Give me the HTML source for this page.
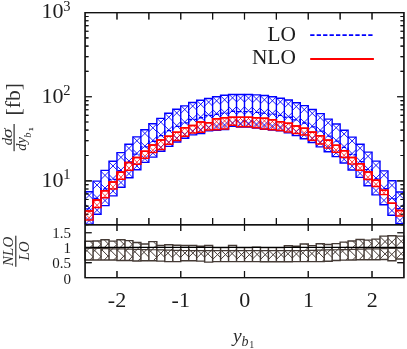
<!DOCTYPE html>
<html><head><meta charset="utf-8"><title>chart</title>
<style>html,body{margin:0;padding:0;background:#fff}body{width:407px;height:349px;overflow:hidden;font-family:"Liberation Serif",serif}</style>
</head><body>
<svg width="407" height="349" viewBox="0 0 407 349" style="display:block;will-change:transform;opacity:0.999">
<rect width="407" height="349" fill="#ffffff"/>
<g clip-path="url(#cm)">
<path d="M85.48 191.8L93.07 199.39M92.68 191.8L85.1 199.39M85.1 204.01L93.07 211.99M93.07 204.01L85.1 211.99M85.1 216.61L92.69 224.2M93.07 216.61L85.48 224.2M93.11 181.1L101.04 189.04M101 181.1L93.07 189.04M93.07 193.67L101.04 201.64M101.04 193.67L93.07 201.64M93.07 206.26L101 214.2M101.04 206.27L93.11 214.2M101.04 171.42L109.01 179.39M109.01 171.42L101.04 179.38M101.04 184.01L109.01 191.99M109.01 184.01L101.04 191.98M101.04 196.61L109.01 204.58M109.01 196.61L101.04 204.58M109.01 161.97L116.98 169.94M116.98 161.97L109.01 169.94M109.01 174.56L116.98 182.54M116.98 174.57L109.01 182.54M109.01 187.17L116.98 195.14M116.98 187.17L109.01 195.14M116.98 153.37L124.95 161.33M124.95 153.36L116.98 161.33M116.98 165.96L124.95 173.94M124.95 165.96L116.98 173.93M116.98 178.56L124.95 186.53M124.95 178.56L116.98 186.53M124.95 144.41L132.92 152.38M132.92 144.42L124.95 152.38M124.95 157.01L132.92 164.98M132.92 157.02L124.95 164.99M124.95 169.61L132.92 177.58M132.92 169.62L124.95 177.58M133.05 136.9L140.89 144.74M140.75 136.9L132.92 144.73M132.92 149.37L140.89 157.34M140.89 149.36L132.92 157.33M132.92 161.97L140.75 169.8M140.89 161.96L133.05 169.8M141.12 129.7L148.86 137.44M148.62 129.7L140.89 137.44M140.89 142.06L148.86 150.03M148.86 142.07L140.89 150.04M140.89 154.66L148.62 162.4M148.86 154.67L141.12 162.4M148.86 123.87L156.83 131.84M156.83 123.86L148.86 131.83M148.86 136.47L156.83 144.44M156.83 136.46L148.86 144.43M148.86 149.06L156.83 157.03M156.83 149.06L148.86 157.03M157.01 118.4L164.8 126.18M164.62 118.4L156.83 126.19M156.83 130.81L164.8 138.78M164.8 130.81L156.83 138.78M156.83 143.41L164.62 151.2M164.8 143.41L157.01 151.2M164.83 113.3L172.77 121.24M172.73 113.3L164.8 121.23M164.8 125.87L172.77 133.84M172.77 125.86L164.8 133.83M164.8 138.47L172.73 146.4M172.77 138.46L164.83 146.4M172.95 109.2L180.74 116.98M180.55 109.2L172.77 116.98M172.77 121.61L180.74 129.58M180.74 121.61L172.77 129.58M172.77 134.21L180.56 142M180.74 134.21L172.95 142M181.17 105.9L188.71 113.44M188.27 105.9L180.74 113.44M180.74 118.06L188.71 126.03M188.71 118.06L180.74 126.03M180.74 130.66L188.27 138.2M188.71 130.66L181.17 138.2M189.09 102.5L196.68 110.08M196.3 102.5L188.71 110.09M188.71 114.71L196.68 122.68M196.68 114.72L188.71 122.69M188.71 127.31L196.29 134.9M196.68 127.32L189.09 134.9M196.68 100.37L204.65 108.34M204.65 100.36L196.68 108.33M196.68 112.97L204.65 120.94M204.65 112.96L196.68 120.93M196.68 125.57L204.65 133.53M204.65 125.56L196.68 133.53M205.03 98.5L212.62 106.08M212.24 98.5L204.65 106.09M204.65 110.71L212.62 118.68M212.62 110.72L204.65 118.69M204.65 123.31L212.23 130.9M212.62 123.32L205.03 130.9M212.62 96.86L220.59 104.83M220.59 96.86L212.62 104.83M212.62 109.46L220.59 117.43M220.59 109.46L212.62 117.43M212.62 122.06L220.59 130.03M220.59 122.06L212.62 130.03M220.59 95.76L228.56 103.73M228.56 95.77L220.59 103.74M220.59 108.36L228.56 116.33M228.56 108.37L220.59 116.34M220.59 120.96L228.56 128.93M228.56 120.97L220.59 128.94M229.19 94.5L236.53 101.83M235.89 94.5L228.56 101.83M228.56 106.46L236.53 114.43M236.53 106.46L228.56 114.43M228.56 119.06L235.89 126.4M236.53 119.06L229.19 126.4M236.86 94.5L244.5 102.13M244.16 94.5L236.53 102.14M236.53 106.76L244.5 114.73M244.5 106.77L236.53 114.74M236.53 119.36L244.16 127M244.5 119.37L236.86 127M244.83 94.5L252.47 102.14M252.13 94.5L244.5 102.13M244.5 106.77L252.47 114.74M252.47 106.76L244.5 114.73M244.5 119.37L252.13 127M252.47 119.36L244.83 127M252.47 94.92L260.44 102.89M260.44 94.91L252.47 102.88M252.47 107.52L260.44 115.49M260.44 107.51L252.47 115.48M252.47 120.12L260.44 128.09M260.44 120.11L252.47 128.08M260.44 95.81L268.41 103.79M268.41 95.81L260.44 103.79M260.44 108.41L268.41 116.39M268.41 108.41L260.44 116.39M260.44 121.01L268.41 128.99M268.41 121.01L260.44 128.99M268.41 96.76L276.38 104.73M276.38 96.77L268.41 104.74M268.41 109.36L276.38 117.33M276.38 109.36L268.41 117.34M268.41 121.96L276.38 129.94M276.38 121.96L268.41 129.94M276.66 98.2L284.35 105.89M284.06 98.2L276.38 105.89M276.38 110.52L284.35 118.49M284.35 110.51L276.38 118.48M276.38 123.11L284.06 130.8M284.35 123.11L276.67 130.8M284.48 100L292.32 107.84M292.18 100L284.35 107.83M284.35 112.47L292.32 120.44M292.32 112.46L284.35 120.43M284.35 125.07L292.18 132.9M292.32 125.06L284.48 132.9M292.45 102.7L300.29 110.54M300.15 102.7L292.32 110.54M292.32 115.17L300.29 123.14M300.29 115.16L292.32 123.14M292.32 127.77L300.15 135.6M300.29 127.76L292.45 135.6M300.29 105.61L308.26 113.59M308.26 105.61L300.29 113.59M300.29 118.21L308.26 126.19M308.26 118.21L300.29 126.19M300.29 130.81L308.26 138.78M308.26 130.81L300.29 138.78M308.35 109.5L316.23 117.39M316.14 109.5L308.26 117.39M308.26 122.01L316.23 129.99M316.23 122.01L308.26 129.99M308.26 134.61L316.14 142.5M316.23 134.61L308.35 142.5M316.23 113.67L324.2 121.64M324.2 113.66L316.23 121.63M316.23 126.27L324.2 134.24M324.2 126.26L316.23 134.23M316.23 138.87L324.2 146.84M324.2 138.86L316.23 146.83M324.48 119.1L332.17 126.78M331.88 119.1L324.2 126.78M324.2 131.41L332.17 139.38M332.17 131.41L324.2 139.38M324.2 144.01L331.88 151.7M332.17 144.01L324.48 151.7M332.45 124L340.14 131.69M339.86 124L332.17 131.69M332.17 136.31L340.14 144.29M340.14 136.31L332.17 144.29M332.17 148.91L339.85 156.6M340.14 148.91L332.45 156.6M340.38 130.3L348.11 138.04M347.88 130.3L340.14 138.04M340.14 142.66L348.11 150.64M348.11 142.66L340.14 150.64M340.14 155.26L347.88 163M348.11 155.26L340.38 163M348.25 137.1L356.08 144.94M355.95 137.1L348.11 144.94M348.11 149.56L356.08 157.54M356.08 149.56L348.11 157.54M348.11 162.16L355.95 170M356.08 162.16L348.25 170M356.11 144.3L364.05 152.24M364.01 144.3L356.08 152.24M356.08 156.87L364.05 164.84M364.05 156.87L356.08 164.84M356.08 169.47L364.01 177.4M364.05 169.47L356.11 177.4M364.05 152.31L372.02 160.29M372.02 152.31L364.05 160.29M364.05 164.91L372.02 172.89M372.02 164.91L364.05 172.89M364.05 177.51L372.02 185.49M372.02 177.51L364.05 185.49M372.02 161.41L379.99 169.39M379.99 161.41L372.02 169.39M372.02 174.01L379.99 181.99M379.99 174.01L372.02 181.99M372.02 186.61L379.99 194.58M379.99 186.61L372.02 194.58M379.99 171.21L387.96 179.19M387.96 171.21L379.99 179.19M379.99 183.81L387.96 191.79M387.96 183.81L379.99 191.79M379.99 196.42L387.96 204.39M387.96 196.42L379.99 204.39M387.96 181.41L395.93 189.38M395.93 181.41L387.96 189.38M387.96 194.01L395.93 201.99M395.93 194.01L387.96 201.99M387.96 206.62L395.93 214.59M395.93 206.62L387.96 214.59M396.71 192L403.9 199.19M403.11 192L395.93 199.19M395.93 203.81L403.9 211.79M403.9 203.81L395.93 211.79M395.93 216.42L403.11 223.6M403.9 216.42L396.71 223.6" fill="none" stroke="#0000ff" stroke-width="0.9"/>
<path d="M85.1 191.8H93.07V224.2H85.1ZM93.07 181.1H101.04V214.2H93.07ZM101.04 170.4H109.01V205.6H101.04ZM109.01 161.2H116.98V195.9H109.01ZM116.98 152.6H124.95V187.3H116.98ZM124.95 144.2H132.92V177.8H124.95ZM132.92 136.9H140.89V169.8H132.92ZM140.89 129.7H148.86V162.4H140.89ZM148.86 123.8H156.83V157.1H148.86ZM156.83 118.4H164.8V151.2H156.83ZM164.8 113.3H172.77V146.4H164.8ZM172.77 109.2H180.74V142H172.77ZM180.74 105.9H188.71V138.2H180.74ZM188.71 102.5H196.68V134.9H188.71ZM196.68 100.3H204.65V133.6H196.68ZM204.65 98.5H212.62V130.9H204.65ZM212.62 96.7H220.59V130.2H212.62ZM220.59 95.2H228.56V129.5H220.59ZM228.56 94.5H236.53V126.4H228.56ZM236.53 94.5H244.5V127H236.53ZM244.5 94.5H252.47V127H244.5ZM252.47 94.9H260.44V128.1H252.47ZM260.44 95.5H268.41V129.3H260.44ZM268.41 96.7H276.38V130H268.41ZM276.38 98.2H284.35V130.8H276.38ZM284.35 100H292.32V132.9H284.35ZM292.32 102.7H300.29V135.6H292.32ZM300.29 105.6H308.26V138.8H300.29ZM308.26 109.5H316.23V142.5H308.26ZM316.23 113.6H324.2V146.9H316.23ZM324.2 119.1H332.17V151.7H324.2ZM332.17 124H340.14V156.6H332.17ZM340.14 130.3H348.11V163H340.14ZM348.11 137.1H356.08V170H348.11ZM356.08 144.3H364.05V177.4H356.08ZM364.05 152.1H372.02V185.7H364.05ZM372.02 161.1H379.99V194.9H372.02ZM379.99 170.9H387.96V204.7H379.99ZM387.96 180.8H395.93V215.2H387.96ZM395.93 192H403.9V223.6H395.93Z" fill="none" stroke="#0000ff" stroke-width="1.4" stroke-linejoin="miter"/>
<path d="M85.1 208.8H93.07V198.45H101.04V188.8H109.01V179.35H116.98V170.75H124.95V161.8H132.92V154.15H140.89V146.85H148.86V141.25H156.83V135.6H164.8V130.65H172.77V126.4H180.74V122.85H188.71V119.5H196.68V117.75H204.65V115.5H212.62V114.25H220.59V113.15H228.56V111.25H236.53V111.55H244.5V111.55H252.47V112.3H260.44V113.2H268.41V114.15H276.38V115.3H284.35V117.25H292.32V119.95H300.29V123H308.26V126.8H316.23V131.05H324.2V136.2H332.17V141.1H340.14V147.45H348.11V154.35H356.08V161.65H364.05V169.7H372.02V178.8H379.99V188.6H387.96V198.8H395.93V208.6H403.9" fill="none" stroke="#0000ff" stroke-width="1.3" stroke-dasharray="4.3 2.1"/>
</g>
<path d="M85.1 252.45L93.07 244.48M85.1 248.75L93.07 256.72M89.85 260L93.07 256.78M89.85 241.2L93.07 244.42M93.07 252.22L101.04 244.25M93.07 248.78L101.04 256.75M97.59 260L101.04 256.55M97.59 241L101.04 244.45M101.04 250.83L109.01 242.86M101.04 248.97L109.01 256.94M104.17 260L109.01 255.16M104.17 239.8L109.01 244.64M109.01 252.33L116.98 244.36M109.01 248.77L116.98 256.74M113.64 260L116.98 256.66M113.64 241.1L116.98 244.44M116.98 250.63L124.95 242.66M116.98 249.57L124.95 257.54M119.41 260.5L124.95 254.96M119.41 239.7L124.95 245.24M124.95 251.68L132.92 243.71M124.95 249.42L132.92 257.39M128.43 260.5L132.92 256.01M128.43 240.6L132.92 245.09M132.92 253.68L140.89 245.71M132.92 249.72L140.89 257.69M137.9 261L140.89 258.01M137.9 242.4L140.89 245.39M140.89 255.44L148.86 247.47M140.89 249.16L148.86 257.13M147.93 260.7L148.86 259.77M147.93 243.9L148.86 244.83M148.86 252.8L156.83 244.83M148.86 249.5L156.83 257.47M153.26 260.7L156.83 257.13M153.26 241.6L156.83 245.17M156.83 257.2L164.8 249.23M156.83 249.4L164.8 257.37M164.8 256.34L172.77 248.37M164.8 250.06L172.77 258.03M171.84 261.6L172.77 260.67M171.84 244.8L172.77 245.73M172.77 256.79L180.74 248.82M172.77 250.01L180.74 257.98M180.26 261.6L180.74 261.12M180.26 245.2L180.74 245.68M180.74 257.25L188.71 249.28M180.74 248.95L188.71 256.92M188.71 257.25L196.68 249.28M188.71 248.95L196.68 256.92M196.68 258.1L204.65 250.13M196.68 249.3L204.65 257.27M204.65 257.06L212.62 249.09M204.65 250.54L212.62 258.51M211.91 262.1L212.62 261.39M211.91 245.5L212.62 246.21M212.62 259.49L220.59 251.52M212.62 249.71L220.59 257.68M220.59 259.49L228.56 251.52M220.59 249.71L228.56 257.68M228.56 257.13L236.53 249.16M228.56 249.97L236.53 257.94M236.39 261.6L236.53 261.46M236.39 245.5L236.53 245.64M236.53 259.49L244.5 251.52M236.53 249.71L244.5 257.68M244.5 259.49L252.47 251.52M244.5 249.71L252.47 257.68M252.47 259.05L260.44 251.08M252.47 249.75L260.44 257.72M260.44 259.47L268.41 251.5M260.44 249.93L268.41 257.9M268.41 259.47L276.38 251.5M268.41 249.93L276.38 257.9M276.38 259.47L284.35 251.5M276.38 249.93L284.35 257.9M284.35 257.45L292.32 249.48M284.35 250.15L292.32 258.12M292.3 261.8L292.32 261.78M292.3 245.8L292.32 245.82M292.32 258.04L300.29 250.07M292.32 249.86L300.29 257.83M300.29 255.31L308.26 247.34M300.29 250.19L308.26 258.16M306.3 261.6L308.26 259.64M306.3 243.9L308.26 245.86M308.26 257.25L316.23 249.28M308.26 249.95L316.23 257.92M316.21 261.6L316.23 261.58M316.21 245.6L316.23 245.62M316.23 255.19L324.2 247.22M316.23 250.21L324.2 258.18M322.12 261.6L324.2 259.52M322.12 243.8L324.2 245.88M324.2 255.94L332.17 247.97M324.2 249.66L332.17 257.63M331.24 261.2L332.17 260.27M331.24 244.4L332.17 245.33M332.17 255.14L340.14 247.17M332.17 248.86L340.14 256.83M339.21 260.4L340.14 259.47M339.21 243.6L340.14 244.53M340.14 253.47L348.11 245.5M340.14 248.73L348.11 256.7M345.81 260.1L348.11 257.8M345.81 242.1L348.11 244.4M348.11 252.1L356.08 244.13M348.11 248.8L356.08 256.77M352.51 260L356.08 256.43M352.51 240.9L356.08 244.47M356.08 250.41L364.05 242.44M356.08 248.69L364.05 256.66M359.09 259.7L364.05 254.74M359.09 239.4L364.05 244.36M364.05 251.22L372.02 243.25M364.05 248.58L372.02 256.55M367.87 259.7L372.02 255.55M367.87 240.1L372.02 244.25M372.02 250.07L379.99 242.1M372.02 248.73L379.99 256.7M374.69 259.7L379.99 254.4M374.69 239.1L379.99 244.4M379.99 246.62L387.96 238.65M379.99 248.88L387.96 256.85M379.99 258.92L387.96 250.95M379.99 236.58L387.96 244.55M387.96 245.91L395.93 237.94M387.96 250.59L395.93 258.56M387.96 258.21L395.93 250.24M387.96 238.29L395.93 246.26M395.93 246.69L403.9 238.72M395.93 248.41L403.9 256.38M395.93 258.99L403.9 251.02M395.93 236.11L403.9 244.08" fill="none" stroke="#443a35" stroke-width="1.0"/>
<path d="M85.1 241.2H93.07V260H85.1ZM93.07 241H101.04V260H93.07ZM101.04 239.8H109.01V260H101.04ZM109.01 241.1H116.98V260H109.01ZM116.98 239.7H124.95V260.5H116.98ZM124.95 240.6H132.92V260.5H124.95ZM132.92 242.4H140.89V261H132.92ZM140.89 243.9H148.86V260.7H140.89ZM148.86 241.6H156.83V260.7H148.86ZM156.83 245.5H164.8V261.1H156.83ZM164.8 244.8H172.77V261.6H164.8ZM172.77 245.2H180.74V261.6H172.77ZM180.74 245.5H188.71V260.7H180.74ZM188.71 245.5H196.68V260.7H188.71ZM196.68 246.3H204.65V261.1H196.68ZM204.65 245.5H212.62V262.1H204.65ZM212.62 247.6H220.59V261.6H212.62ZM220.59 247.6H228.56V261.6H220.59ZM228.56 245.5H236.53V261.6H228.56ZM236.53 247.6H244.5V261.6H236.53ZM244.5 247.6H252.47V261.6H244.5ZM252.47 247.2H260.44V261.6H252.47ZM260.44 247.6H268.41V261.8H260.44ZM268.41 247.6H276.38V261.8H268.41ZM276.38 247.6H284.35V261.8H276.38ZM284.35 245.8H292.32V261.8H284.35ZM292.32 246.3H300.29V261.6H292.32ZM300.29 243.9H308.26V261.6H300.29ZM308.26 245.6H316.23V261.6H308.26ZM316.23 243.8H324.2V261.6H316.23ZM324.2 244.4H332.17V261.2H324.2ZM332.17 243.6H340.14V260.4H332.17ZM340.14 242.1H348.11V260.1H340.14ZM348.11 240.9H356.08V260H348.11ZM356.08 239.4H364.05V259.7H356.08ZM364.05 240.1H372.02V259.7H364.05ZM372.02 239.1H379.99V259.7H372.02ZM379.99 236.1H387.96V259.4H379.99ZM387.96 235.7H395.93V260.8H387.96ZM395.93 236.1H403.9V259H395.93Z" fill="none" stroke="#443a35" stroke-width="1.45" stroke-linejoin="miter"/>
<path d="M85.1 248.2H93.07V248.39H101.04V248.58H109.01V248.78H116.98V248.97H124.95V249.16H132.92V249.35H140.89V249.54H148.86V249.74H156.83V249.93H164.8V250.12H172.77V250.31H180.74V250.5H188.71V250.6H196.68V250.6H204.65V250.6H212.62V250.6H220.59V250.6H228.56V250.6H236.53V250.6H244.5V250.6H252.47V250.6H260.44V250.6H268.41V250.6H276.38V250.6H284.35V250.6H292.32V250.6H300.29V250.5H308.26V250.31H316.23V250.12H324.2V249.93H332.17V249.74H340.14V249.54H348.11V249.35H356.08V249.16H364.05V248.97H372.02V248.78H379.99V248.58H387.96V248.39H395.93V248.2H403.9" fill="none" stroke="#443a35" stroke-width="1.2"/>
<path d="M85.1 247.4H403.9" stroke="#000" stroke-width="1.3"/>
<path d="M85.1 224.77h3.4M403.9 224.77h-3.4M85.1 214.27h3.4M403.9 214.27h-3.4M85.1 206.12h3.4M403.9 206.12h-3.4M85.1 199.46h3.4M403.9 199.46h-3.4M85.1 193.83h3.4M403.9 193.83h-3.4M85.1 188.95h3.4M403.9 188.95h-3.4M85.1 184.65h3.4M403.9 184.65h-3.4M85.1 180.8h6.8M403.9 180.8h-6.8M85.1 155.48h3.4M403.9 155.48h-3.4M85.1 140.67h3.4M403.9 140.67h-3.4M85.1 130.17h3.4M403.9 130.17h-3.4M85.1 122.02h3.4M403.9 122.02h-3.4M85.1 115.36h3.4M403.9 115.36h-3.4M85.1 109.73h3.4M403.9 109.73h-3.4M85.1 104.85h3.4M403.9 104.85h-3.4M85.1 100.55h3.4M403.9 100.55h-3.4M85.1 96.7h6.8M403.9 96.7h-6.8M85.1 71.38h3.4M403.9 71.38h-3.4M85.1 56.57h3.4M403.9 56.57h-3.4M85.1 46.07h3.4M403.9 46.07h-3.4M85.1 37.92h3.4M403.9 37.92h-3.4M85.1 31.26h3.4M403.9 31.26h-3.4M85.1 25.63h3.4M403.9 25.63h-3.4M85.1 20.75h3.4M403.9 20.75h-3.4M85.1 16.45h3.4M403.9 16.45h-3.4M116.98 12.6v6.8M116.98 224.7v-6.8M148.86 12.6v6.8M148.86 224.7v-6.8M180.74 12.6v6.8M180.74 224.7v-6.8M212.62 12.6v6.8M212.62 224.7v-6.8M244.5 12.6v6.8M244.5 224.7v-6.8M276.38 12.6v6.8M276.38 224.7v-6.8M308.26 12.6v6.8M308.26 224.7v-6.8M340.14 12.6v6.8M340.14 224.7v-6.8M372.02 12.6v6.8M372.02 224.7v-6.8M116.98 224.7v6.2M116.98 277.6v-6.5M180.74 224.7v6.2M180.74 277.6v-6.5M244.5 224.7v6.2M244.5 277.6v-6.5M308.26 224.7v6.2M308.26 277.6v-6.5M372.02 224.7v6.2M372.02 277.6v-6.5M85.1 262.65h6.6M403.9 262.65h-6.6M85.1 247.7h6.6M403.9 247.7h-6.6M85.1 232.75h6.6M403.9 232.75h-6.6" fill="none" stroke="#111111" stroke-width="1.15"/><path d="M85.1 12.6H403.9V277.6H85.1ZM85.1 224.7H403.9" fill="none" stroke="#111111" stroke-width="1.35"/>
<g clip-path="url(#cm)">
<path d="M85.1 213.81L91.19 219.9M93.07 213.81L86.98 219.9M88.39 211L93.07 215.68M89.78 211L85.1 215.68M93.07 201.31L99.16 207.4M101.04 201.31L94.95 207.4M97.86 200L101.04 203.18M96.25 200L93.07 203.18M101.04 191.71L107.13 197.8M109.01 191.71L102.92 197.8M106.13 190.7L109.01 193.58M103.92 190.7L101.04 193.58M109.01 182.92L115.09 189M116.98 182.92L110.9 189M114.19 182L116.98 184.79M111.8 182L109.01 184.79M116.98 173.21L123.07 179.3M124.95 173.21L118.86 179.3M121.97 172.1L124.95 175.08M119.96 172.1L116.98 175.08M124.95 164.1L131.05 170.2M132.92 164.1L126.82 170.2M129.45 162.5L132.92 165.97M128.42 162.5L124.95 165.97M132.92 158.22L139 164.3M140.89 158.22L134.81 164.3M138.3 157.5L140.89 160.09M135.51 157.5L132.92 160.09M140.89 152.12L146.97 158.2M148.86 152.12L142.78 158.2M146.07 151.2L148.86 153.99M143.68 151.2L140.89 153.99M148.86 146.31L154.95 152.4M156.83 146.31L150.74 152.4M153.65 145L156.83 148.18M152.04 145L148.86 148.18M156.83 143.33L162.9 149.4M164.8 143.33L158.73 149.4M159.5 139.9L164.8 145.2M162.13 139.9L156.83 145.2M164.8 138.1L170.9 144.2M172.77 138.1L166.67 144.2M169.1 136.3L172.77 139.97M168.47 136.3L164.8 139.97M172.77 134.4L178.87 140.5M180.74 134.4L174.64 140.5M176.77 132.3L180.74 136.27M176.74 132.3L172.77 136.27M180.74 130.2L186.84 136.3M188.71 130.2L182.61 136.3M184.44 127.8L188.71 132.07M185.01 127.8L180.74 132.07M188.71 126.9L194.81 133M196.68 126.9L190.58 133M193.41 125.5L196.68 128.77M191.98 125.5L188.71 128.77M196.68 126.28L202.7 132.3M204.65 126.28L198.63 132.3M198.4 121.9L204.65 128.15M202.93 121.9L196.68 128.15M204.5 121.9L204.65 122.05M196.83 121.9L196.68 122.05M204.65 123.81L210.74 129.9M212.62 123.81L206.53 129.9M209.64 122.7L212.62 125.68M207.63 122.7L204.65 125.68M212.62 123.83L218.59 129.8M220.59 123.83L214.62 129.8M213.59 118.7L220.59 125.7M219.62 118.7L212.62 125.7M219.69 118.7L220.59 119.6M213.52 118.7L212.62 119.6M220.59 123.04L226.55 129M228.56 123.04L222.6 129M221.35 117.7L228.56 124.91M227.8 117.7L220.59 124.91M227.45 117.7L228.56 118.81M221.7 117.7L220.59 118.81M228.56 119.1L234.66 125.2M236.53 119.1L230.43 125.2M232.86 117.3L236.53 120.97M232.23 117.3L228.56 120.97M236.53 120.63L242.6 126.7M244.5 120.63L238.43 126.7M239.3 117.3L244.5 122.5M241.73 117.3L236.53 122.5M244.5 120.63L250.57 126.7M252.47 120.63L246.4 126.7M247.27 117.3L252.47 122.5M249.7 117.3L244.5 122.5M252.47 121.76L258.51 127.8M260.44 121.76L254.4 127.8M254.51 117.7L260.44 123.63M258.4 117.7L252.47 123.63M260.44 123.01L266.43 129M268.41 123.01L262.42 129M261.73 118.2L268.41 124.88M267.12 118.2L260.44 124.88M267.83 118.2L268.41 118.78M261.02 118.2L260.44 118.78M268.41 123.66L274.45 129.7M276.38 123.66L270.34 129.7M270.55 119.7L276.38 125.53M274.24 119.7L268.41 125.53M276.38 124.31L282.47 130.4M284.35 124.31L278.26 130.4M279.87 121.7L284.35 126.18M280.86 121.7L276.38 126.18M284.35 125.81L290.44 131.9M292.32 125.81L286.23 131.9M287.84 123.2L292.32 127.68M288.83 123.2L284.35 127.68M292.32 127.3L298.42 133.4M300.29 127.3L294.19 133.4M297.02 125.9L300.29 129.17M295.59 125.9L292.32 129.17M300.29 128.93L306.36 135M308.26 128.93L302.19 135M305.76 128.3L308.26 130.8M302.79 128.3L300.29 130.8M308.26 134.1L314.36 140.2M316.23 134.1L310.13 140.2M312.36 132.1L316.23 135.97M312.13 132.1L308.26 135.97M316.23 137.9L322.33 144M324.2 137.9L318.1 144M320.23 135.8L324.2 139.77M320.2 135.8L316.23 139.77M324.2 142L330.3 148.1M332.17 142L326.07 148.1M328.4 140.1L332.17 143.87M327.97 140.1L324.2 143.87M332.17 146.12L338.25 152.2M340.14 146.12L334.06 152.2M337.45 145.3L340.14 147.99M334.86 145.3L332.17 147.99M340.14 151.33L346.21 157.4M348.11 151.33L342.04 157.4M345.71 150.8L348.11 153.2M342.54 150.8L340.14 153.2M348.11 158.03L354.18 164.1M356.08 158.03L350.01 164.1M353.68 157.5L356.08 159.9M350.51 157.5L348.11 159.9M356.08 164.24L362.14 170.3M364.05 164.24L357.99 170.3M361.74 163.8L364.05 166.11M358.39 163.8L356.08 166.11M364.05 173.3L370.15 179.4M372.02 173.3L365.92 179.4M368.75 171.9L372.02 175.17M367.32 171.9L364.05 175.17M372.02 180.36L378.06 186.4M379.99 180.36L373.95 186.4M378.06 180.3L379.99 182.23M373.95 180.3L372.02 182.23M381.52 190.3L385.82 194.6M386.43 190.3L382.13 194.6M387.62 190.3L387.96 190.64M380.33 190.3L379.99 190.64M396.42 210.4L401.92 215.9M403.41 210.4L397.91 215.9M402.52 210.4L403.9 211.78M397.31 210.4L395.93 211.78" fill="none" stroke="#ff0000" stroke-width="0.75"/>
<path d="M85.1 211H93.07V219.9H85.1ZM93.07 200H101.04V207.4H93.07ZM101.04 190.7H109.01V197.8H101.04ZM109.01 182H116.98V189H109.01ZM116.98 172.1H124.95V179.3H116.98ZM124.95 162.5H132.92V170.2H124.95ZM132.92 157.5H140.89V164.3H132.92ZM140.89 151.2H148.86V158.2H140.89ZM148.86 145H156.83V152.4H148.86ZM156.83 139.9H164.8V149.4H156.83ZM164.8 136.3H172.77V144.2H164.8ZM172.77 132.3H180.74V140.5H172.77ZM180.74 127.8H188.71V136.3H180.74ZM188.71 125.5H196.68V133H188.71ZM196.68 121.9H204.65V132.3H196.68ZM204.65 122.7H212.62V129.9H204.65ZM212.62 118.7H220.59V129.8H212.62ZM220.59 117.7H228.56V129H220.59ZM228.56 117.3H236.53V125.2H228.56ZM236.53 117.3H244.5V126.7H236.53ZM244.5 117.3H252.47V126.7H244.5ZM252.47 117.7H260.44V127.8H252.47ZM260.44 118.2H268.41V129H260.44ZM268.41 119.7H276.38V129.7H268.41ZM276.38 121.7H284.35V130.4H276.38ZM284.35 123.2H292.32V131.9H284.35ZM292.32 125.9H300.29V133.4H292.32ZM300.29 128.3H308.26V135H300.29ZM308.26 132.1H316.23V140.2H308.26ZM316.23 135.8H324.2V144H316.23ZM324.2 140.1H332.17V148.1H324.2ZM332.17 145.3H340.14V152.2H332.17ZM340.14 150.8H348.11V157.4H340.14ZM348.11 157.5H356.08V164.1H348.11ZM356.08 163.8H364.05V170.3H356.08ZM364.05 171.9H372.02V179.4H364.05ZM372.02 180.3H379.99V186.4H372.02ZM379.99 190.3H387.96V194.6H379.99ZM387.96 203.3H395.93V203.3H387.96ZM395.93 210.4H403.9V215.9H395.93Z" fill="none" stroke="#ff0000" stroke-width="1.45" stroke-linejoin="miter"/>
<path d="M85.1 211H93.07V200H101.04V190.7H109.01V182H116.98V172.1H124.95V162.5H132.92V157.5H140.89V151.2H148.86V145H156.83V139.9H164.8V136.3H172.77V132.3H180.74V127.8H188.71V125.5H196.68V121.9H204.65V122.7H212.62V118.7H220.59V117.7H228.56V117.3H236.53V117.3H244.5V117.3H252.47V117.7H260.44V118.2H268.41V119.7H276.38V121.7H284.35V123.2H292.32V125.9H300.29V128.3H308.26V132.1H316.23V135.8H324.2V140.1H332.17V145.3H340.14V150.8H348.11V157.5H356.08V163.8H364.05V171.9H372.02V180.3H379.99V190.3H387.96V203.3H395.93V210.4H403.9" fill="none" stroke="#ff0000" stroke-width="1.55"/>
</g>
<g opacity="0.72"><path d="M85.1 224.77h3.4M403.9 224.77h-3.4M85.1 214.27h3.4M403.9 214.27h-3.4M85.1 206.12h3.4M403.9 206.12h-3.4M85.1 199.46h3.4M403.9 199.46h-3.4M85.1 193.83h3.4M403.9 193.83h-3.4M85.1 188.95h3.4M403.9 188.95h-3.4M85.1 184.65h3.4M403.9 184.65h-3.4M85.1 180.8h6.8M403.9 180.8h-6.8M85.1 155.48h3.4M403.9 155.48h-3.4M85.1 140.67h3.4M403.9 140.67h-3.4M85.1 130.17h3.4M403.9 130.17h-3.4M85.1 122.02h3.4M403.9 122.02h-3.4M85.1 115.36h3.4M403.9 115.36h-3.4M85.1 109.73h3.4M403.9 109.73h-3.4M85.1 104.85h3.4M403.9 104.85h-3.4M85.1 100.55h3.4M403.9 100.55h-3.4M85.1 96.7h6.8M403.9 96.7h-6.8M85.1 71.38h3.4M403.9 71.38h-3.4M85.1 56.57h3.4M403.9 56.57h-3.4M85.1 46.07h3.4M403.9 46.07h-3.4M85.1 37.92h3.4M403.9 37.92h-3.4M85.1 31.26h3.4M403.9 31.26h-3.4M85.1 25.63h3.4M403.9 25.63h-3.4M85.1 20.75h3.4M403.9 20.75h-3.4M85.1 16.45h3.4M403.9 16.45h-3.4M116.98 12.6v6.8M116.98 224.7v-6.8M148.86 12.6v6.8M148.86 224.7v-6.8M180.74 12.6v6.8M180.74 224.7v-6.8M212.62 12.6v6.8M212.62 224.7v-6.8M244.5 12.6v6.8M244.5 224.7v-6.8M276.38 12.6v6.8M276.38 224.7v-6.8M308.26 12.6v6.8M308.26 224.7v-6.8M340.14 12.6v6.8M340.14 224.7v-6.8M372.02 12.6v6.8M372.02 224.7v-6.8M116.98 224.7v6.2M116.98 277.6v-6.5M180.74 224.7v6.2M180.74 277.6v-6.5M244.5 224.7v6.2M244.5 277.6v-6.5M308.26 224.7v6.2M308.26 277.6v-6.5M372.02 224.7v6.2M372.02 277.6v-6.5M85.1 262.65h6.6M403.9 262.65h-6.6M85.1 247.7h6.6M403.9 247.7h-6.6M85.1 232.75h6.6M403.9 232.75h-6.6" fill="none" stroke="#111111" stroke-width="1.15"/><path d="M85.1 12.6H403.9V277.6H85.1ZM85.1 224.7H403.9" fill="none" stroke="#111111" stroke-width="1.35"/></g>
<path d="M310.2 35.1H373.4" stroke="#0000ff" stroke-width="1.6" stroke-dasharray="4.3 2.15"/>
<path d="M310.2 59H373.9" stroke="#ff0000" stroke-width="1.8"/>
<g style="font-family:'Liberation Serif',serif">
<text x="295.9" y="40.5" font-size="21.4" text-anchor="end" fill="#1c1c1c">LO</text>
<text x="295.9" y="64.2" font-size="21.4" text-anchor="end" fill="#1c1c1c">NLO</text>
<text x="41.5" y="18.4" font-size="22" text-anchor="start" fill="#1c1c1c">10</text>
<text x="63.2" y="10.7" font-size="14.5" text-anchor="start" fill="#1c1c1c">3</text>
<text x="41.5" y="102.5" font-size="22" text-anchor="start" fill="#1c1c1c">10</text>
<text x="63.2" y="94.8" font-size="14.5" text-anchor="start" fill="#1c1c1c">2</text>
<text x="41.5" y="186.6" font-size="22" text-anchor="start" fill="#1c1c1c">10</text>
<text x="63.2" y="178.9" font-size="14.5" text-anchor="start" fill="#1c1c1c">1</text>
<text x="70.9" y="237.65" font-size="15" text-anchor="end" fill="#1c1c1c">1.5</text>
<text x="70.9" y="252.6" font-size="15" text-anchor="end" fill="#1c1c1c">1</text>
<text x="70.9" y="267.85" font-size="15" text-anchor="end" fill="#1c1c1c">0.5</text>
<text x="70.9" y="283.6" font-size="15" text-anchor="end" fill="#1c1c1c">0</text>
<text x="116.98" y="307.2" font-size="22" text-anchor="middle" fill="#1c1c1c">-2</text>
<text x="180.74" y="307.2" font-size="22" text-anchor="middle" fill="#1c1c1c">-1</text>
<text x="244.7" y="307.2" font-size="22" text-anchor="middle" fill="#1c1c1c">0</text>
<text x="308.46" y="307.2" font-size="22" text-anchor="middle" fill="#1c1c1c">1</text>
<text x="372.22" y="307.2" font-size="22" text-anchor="middle" fill="#1c1c1c">2</text>
<text x="232.9" y="342" font-size="19.5" text-anchor="start" fill="#303030" font-style="italic">y</text>
<text x="241.6" y="345.9" font-size="14" text-anchor="start" fill="#303030" font-style="italic">b</text>
<text x="249.2" y="348.2" font-size="10" text-anchor="start" fill="#303030">1</text>
<g transform="rotate(-90)" fill="#303030">
<text x="-115.4" y="19.6" font-size="21.5">[fb]</text>
<text x="-145.2" y="11.6" font-size="15" font-style="italic">d</text>
<text x="-138.2" y="11.6" font-size="15" font-style="italic" textLength="9.8" lengthAdjust="spacingAndGlyphs">&#963;</text>
<rect x="-151.2" y="13.5" width="27.2" height="1.2"/>
<text x="-150.8" y="25.6" font-size="14.5" font-style="italic">dy</text>
<text x="-137.8" y="31.4" font-size="10.5" font-style="italic">b</text>
<text x="-131.0" y="32.6" font-size="7" stroke="#303030" stroke-width="0.25">1</text>
<text x="-265.9" y="13.1" font-size="15" font-style="italic">NLO</text>
<rect x="-266.8" y="15.2" width="31.1" height="1.2"/>
<text x="-260.6" y="29.2" font-size="15" font-style="italic">LO</text>
</g>
</g>
<defs><clipPath id="cm"><rect x="84.3" y="12.6" width="320.4" height="212.1"/></clipPath></defs>
</svg>
</body></html>
